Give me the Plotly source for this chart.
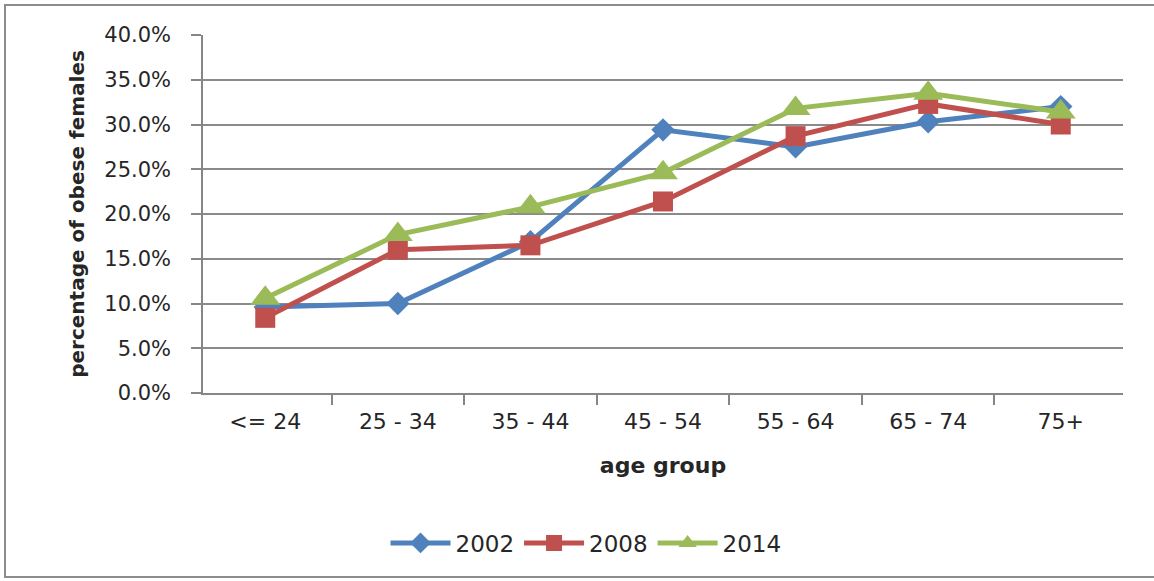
import plotly.graph_objects as go

# Age groups on the category axis
age_groups = ["<= 24", "25 - 34", "35 - 44", "45 - 54", "55 - 64", "65 - 74", "75+"]

# Share of obese females per age group (fractions), by survey year
obese_2002 = [0.096, 0.100, 0.169, 0.294, 0.275, 0.303, 0.320]
obese_2008 = [0.084, 0.160, 0.165, 0.214, 0.287, 0.323, 0.300]
obese_2014 = [0.106, 0.177, 0.208, 0.246, 0.318, 0.335, 0.314]

y_ticks = [0.0, 0.05, 0.10, 0.15, 0.20, 0.25, 0.30, 0.35, 0.40]

W, H = 1154, 581
L, R, T, B = 203, 31, 35, 188
PW, PH = W - L - R, H - T - B

FONT = "'DejaVu Sans', sans-serif"
TEXT = "#262626"

series = [
    ("2002", obese_2002, "#4F81BD", "diamond", 18),
    ("2008", obese_2008, "#C0504D", "square", 20),
    ("2014", obese_2014, "#9BBB59", "triangle-up", 26),
]

fig = go.Figure()
for name, vals, color, symbol, size in series:
    fig.add_trace(go.Scatter(
        x=age_groups, y=vals, name=name, mode="lines+markers",
        line=dict(color=color, width=5),
        marker=dict(symbol=symbol, size=size, color=color, line=dict(width=0)),
    ))


def px_x(p):
    return (p - L) / PW


def px_y(p):
    return (H - B - p) / PH


# outer chart frame
fig.add_shape(type="rect", xref="paper", yref="paper",
              x0=px_x(5), x1=px_x(1170), y0=px_y(5), y1=px_y(577),
              line=dict(color="#8c8c8c", width=2), fillcolor="rgba(0,0,0,0)",
              layer="below")

fig.update_layout(
    width=W, height=H,
    margin=dict(l=L, r=R, t=T, b=B),
    paper_bgcolor="white", plot_bgcolor="white",
    font=dict(family=FONT, size=21, color=TEXT),
    showlegend=True,
    legend=dict(orientation="h", x=px_x(586), xanchor="center",
                y=px_y(543), yanchor="middle",
                font=dict(size=23, color=TEXT),
                bgcolor="rgba(0,0,0,0)", itemwidth=60),
    xaxis=dict(
        type="category", tickson="boundaries", ticks="outside", ticklen=10,
        tickcolor="#868686", tickwidth=1.5,
        showline=True, linecolor="#868686", linewidth=1.5,
        showgrid=False, tickfont=dict(size=22),
        ticklabelstandoff=8,
        title=dict(text="<b>age group</b>", font=dict(size=22), standoff=24),
    ),
    yaxis=dict(
        range=[0, 0.4], tickvals=y_ticks, tickformat=".1%",
        ticks="outside", ticklen=10, tickcolor="#868686", tickwidth=1.5,
        showline=True, linecolor="#868686", linewidth=1.5,
        showgrid=True, gridcolor="#8a8a8a", gridwidth=1.5,
        zeroline=False, tickfont=dict(size=21), ticklabelstandoff=16,
        title=dict(text="<b>percentage of obese females</b>", font=dict(size=20),
                   standoff=14),
    ),
)

fig.write_html("out.html")
